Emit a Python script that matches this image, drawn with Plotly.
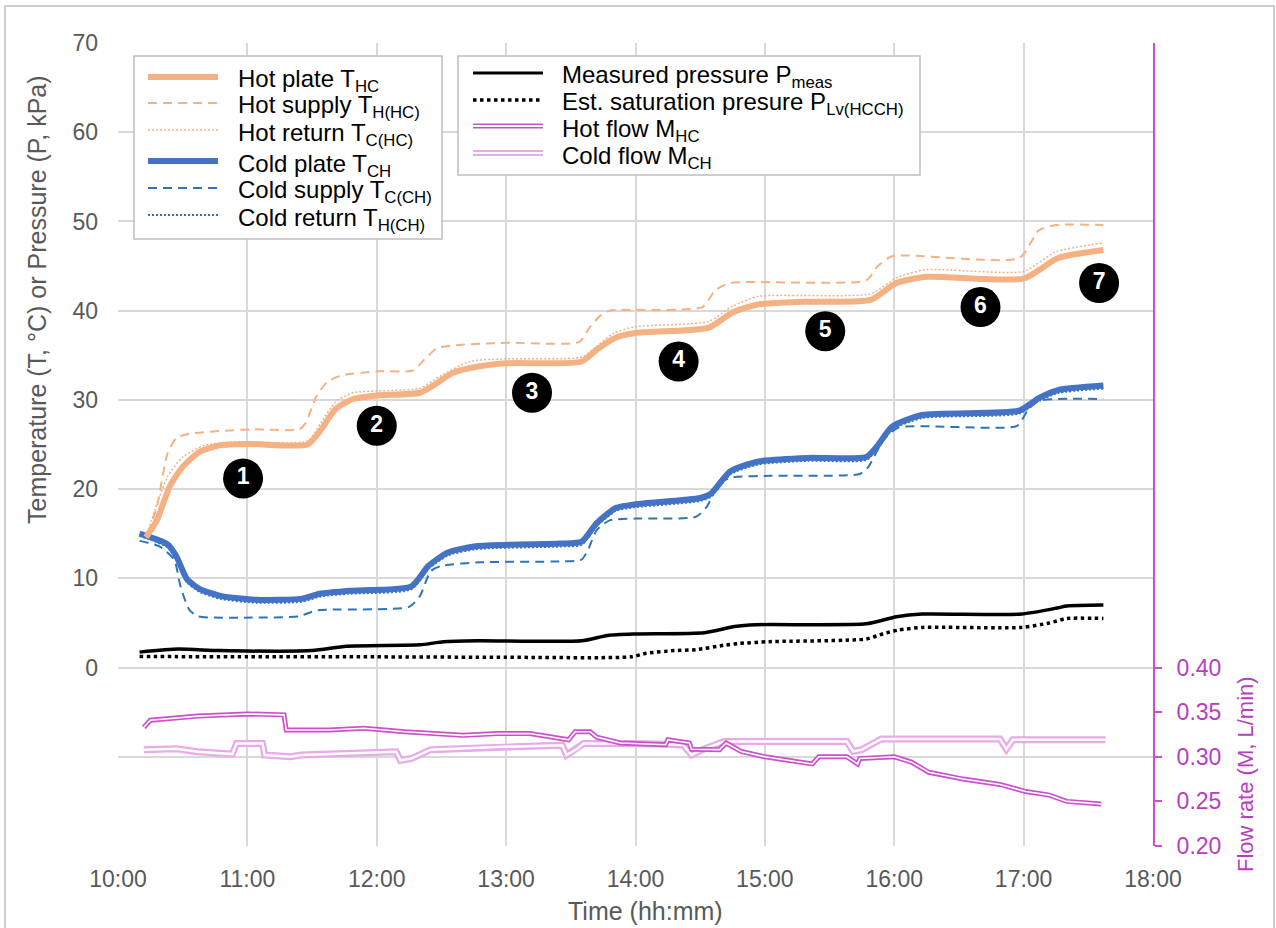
import pandas as pd
import plotly.graph_objects as go

DAY = "2000-01-01 "

def clock(times):
    return pd.to_datetime([DAY + t for t in times])

# ---- temperatures (deg C) ----
hot_plate_time = ["10:13", "10:18", "10:24", "10:30", "10:38", "10:47", "11:02", "11:28", "11:34",
                  "11:41", "11:49", "12:00", "12:20", "12:28", "12:35", "12:44", "13:00", "13:35",
                  "13:43", "13:51", "14:00", "14:34", "14:45", "14:57", "15:18", "15:49", "16:01",
                  "16:15", "17:00", "17:16", "17:37"]
hot_plate_val = [14.6, 16.5, 20.3, 22.5, 24.2, 24.9, 25.05, 25.0, 26.6,
                 29.0, 30.1, 30.5, 30.8, 31.9, 33.0, 33.6, 34.1, 34.3,
                 35.8, 37.0, 37.5, 38.1, 39.8, 40.7, 41.0, 41.2, 43.1,
                 43.8, 43.6, 45.9, 46.8]

hot_return_time = ["10:13", "10:17", "10:23", "10:30", "10:40", "10:54", "11:28", "11:34", "11:41",
                   "11:49", "12:20", "12:29", "12:43", "13:00", "13:35", "13:42", "13:50", "14:00",
                   "14:34", "14:45", "14:57", "15:49", "16:02", "16:15", "17:00", "17:15", "17:37"]
hot_return_val = [14.6, 17.6, 21.4, 23.6, 24.9, 25.3, 25.4, 27.4, 29.8,
                  30.8, 31.3, 32.6, 34.3, 34.6, 34.8, 36.0, 37.5, 38.2,
                  38.8, 40.5, 41.6, 41.9, 43.8, 44.6, 44.4, 46.6, 47.6]

hot_supply_time = ["10:14", "10:18", "10:23", "10:27", "10:33", "11:02", "11:24", "11:27", "11:32",
                   "11:37", "11:43", "12:00", "12:17", "12:22", "12:28", "12:35", "13:00", "13:34",
                   "13:39", "13:44", "13:48", "14:31", "14:37", "14:44", "15:47", "15:52", "15:59",
                   "16:58", "17:07", "17:15", "17:37"]
hot_supply_val = [15.0, 18.0, 24.0, 25.7, 26.2, 26.7, 26.7, 27.4, 30.4,
                  32.0, 32.7, 33.2, 33.3, 34.5, 35.8, 36.1, 36.4, 36.5,
                  38.2, 39.5, 40.0, 40.4, 42.3, 43.1, 43.4, 44.9, 46.1,
                  45.9, 49.0, 49.6, 49.6]

cold_plate_time = ["10:10", "10:23", "10:27", "10:32", "10:38", "10:48", "11:04", "11:25", "11:34",
                   "11:47", "12:16", "12:24", "12:33", "12:46", "13:25", "13:35", "13:42", "13:51",
                   "14:00", "14:30", "14:35", "14:44", "14:57", "15:20", "15:47", "15:52", "15:59",
                   "16:13", "16:58", "17:07", "17:16", "17:37"]
cold_plate_val = [15.0, 13.8, 12.5, 9.9, 8.8, 8.0, 7.6, 7.7, 8.3,
                  8.6, 9.1, 11.4, 12.9, 13.6, 13.9, 14.1, 16.2, 17.9,
                  18.3, 19.0, 19.5, 22.0, 23.1, 23.5, 23.6, 24.8, 27.0,
                  28.3, 28.8, 30.2, 31.1, 31.6]

cold_return_time = cold_plate_time
cold_return_val = [14.8, 13.5, 12.2, 9.6, 8.5, 7.7, 7.3, 7.4, 8.0,
                   8.3, 8.8, 11.1, 12.6, 13.3, 13.6, 13.8, 15.9, 17.6,
                   18.0, 18.7, 19.2, 21.7, 22.8, 23.2, 23.3, 24.5, 26.7,
                   28.0, 28.5, 29.9, 30.8, 31.3]

cold_supply_time = ["10:10", "10:19", "10:26", "10:29", "10:33", "10:37", "11:02", "11:24", "11:32",
                    "12:15", "12:20", "12:25", "12:30", "12:48", "13:25", "13:35", "13:38", "13:42",
                    "13:48", "14:00", "14:28", "14:33", "14:39", "14:45", "15:03", "15:44", "15:48",
                    "15:55", "16:02", "16:57", "17:02", "17:07", "17:37"]
cold_supply_val = [14.2, 13.6, 12.1, 9.1, 6.5, 5.75, 5.6, 5.75, 6.4,
                   6.8, 8.0, 10.8, 11.4, 11.8, 11.9, 12.1, 13.2, 15.4,
                   16.5, 16.7, 16.9, 18.0, 20.7, 21.3, 21.5, 21.7, 22.5,
                   25.5, 26.9, 27.1, 28.9, 29.9, 30.1]

# ---- pressures (kPa) ----
p_meas_time = ["10:10", "10:28", "10:47", "11:30", "11:46", "12:20", "12:31", "12:47", "13:35",
               "13:47", "14:00", "14:32", "14:46", "14:56", "15:47", "16:01", "16:13", "16:59",
               "17:16", "17:20", "17:37"]
p_meas_val = [1.73, 2.07, 1.9, 1.9, 2.4, 2.55, 2.9, 3.0, 3.0,
              3.6, 3.76, 3.9, 4.6, 4.8, 4.9, 5.7, 6.0, 6.0,
              6.7, 6.9, 7.0]

p_sat_time = ["10:10", "11:00", "12:00", "13:00", "13:58", "14:05", "14:18", "14:28", "14:41",
              "14:48", "15:02", "15:47", "15:55", "16:02", "16:13", "16:59", "17:12", "17:20", "17:37"]
p_sat_val = [1.24, 1.2, 1.2, 1.15, 1.2, 1.6, 1.9, 2.0, 2.5,
             2.7, 2.9, 3.2, 3.8, 4.2, 4.5, 4.5, 5.0, 5.5, 5.5]

# ---- flow rates (L/min) ----
hot_flow_time = ["10:12", "10:15", "10:37", "11:00", "11:17", "11:18", "11:38", "11:54", "12:13",
                 "12:40", "12:56", "13:11", "13:29", "13:32", "13:39", "13:42", "13:53", "14:14",
                 "14:15", "14:25", "14:26", "14:39", "14:42", "14:49", "15:00", "15:22", "15:25",
                 "15:38", "15:43", "15:44", "16:00", "16:08", "16:16", "16:32", "16:49", "17:01",
                 "17:12", "17:20", "17:36"]
hot_flow_val = [0.333, 0.341, 0.3456, 0.348, 0.347, 0.330, 0.330, 0.332, 0.328,
                0.324, 0.326, 0.326, 0.319, 0.328, 0.328, 0.322, 0.3155, 0.3135,
                0.319, 0.3155, 0.3085, 0.308, 0.3155, 0.306, 0.300, 0.292, 0.300,
                0.300, 0.292, 0.298, 0.300, 0.294, 0.2826, 0.275, 0.269, 0.261,
                0.257, 0.250, 0.247]

cold_flow_time = ["10:12", "10:27", "10:37", "10:53", "10:55", "11:07", "11:08", "11:20", "11:25",
                  "12:09", "12:11", "12:16", "12:25", "12:56", "13:26", "13:28", "13:33", "13:36",
                  "13:58", "14:22", "14:26", "14:31", "14:41", "15:13", "15:38", "15:41", "15:45",
                  "15:54", "16:49", "16:52", "16:55", "17:38"]
cold_flow_val = [0.308, 0.309, 0.3056, 0.303, 0.315, 0.315, 0.302, 0.300, 0.302,
                 0.3056, 0.296, 0.298, 0.308, 0.311, 0.313, 0.302, 0.309, 0.315,
                 0.315, 0.3135, 0.302, 0.308, 0.317, 0.317, 0.317, 0.306, 0.308,
                 0.320, 0.320, 0.3085, 0.319, 0.319]

# ---- numbered stage markers ----
stage_labels = ["1", "2", "3", "4", "5", "6", "7"]
stage_time = ["10:58", "12:00", "13:12", "14:20", "15:28", "16:40", "17:35"]
stage_val = [21.2, 27.1, 30.8, 34.3, 37.7, 40.4, 43.1]

# ---- axis ticks ----
hour_ticks = ["10:00", "11:00", "12:00", "13:00", "14:00", "15:00", "16:00", "17:00", "18:00"]
left_ticks = [-20, -10, 0, 10, 20, 30, 40, 50, 60, 70]
flow_ticks = [0.20, 0.25, 0.30, 0.35, 0.40]

ORANGE = "#F4B183"
BLUE = "#4472C4"
BLUE_D = "#2E75B6"
MAG = "#CC4FCC"
MAG_PALE = "#E8AAE8"
MAG_TEXT = "#B83DC0"
GRAY_TXT = "#595959"
FONT = "Arial, Liberation Sans, sans-serif"
TICK_FS = 23
LEG_FS = 24

fig = go.Figure()


def temp_line(t, v, color, width, dash="solid", shape="spline"):
    fig.add_trace(go.Scatter(x=clock(t), y=v, mode="lines", showlegend=False,
                             line=dict(color=color, width=width, dash=dash, shape=shape, smoothing=0.6)))


def flow_line(t, v, color, width, inner):
    fig.add_trace(go.Scatter(x=clock(t), y=v, yaxis="y2", mode="lines", showlegend=False,
                             line=dict(color=color, width=width)))
    fig.add_trace(go.Scatter(x=clock(t), y=v, yaxis="y2", mode="lines", showlegend=False,
                             line=dict(color="white", width=inner)))


flow_line(cold_flow_time, cold_flow_val, MAG_PALE, 7, 2.5)
flow_line(hot_flow_time, hot_flow_val, MAG, 5, 1.6)

temp_line(p_sat_time, p_sat_val, "black", 3.5, "3.5px,3.5px")
temp_line(p_meas_time, p_meas_val, "black", 3.5)

temp_line(cold_supply_time, cold_supply_val, BLUE_D, 2, "9px,6px")
temp_line(cold_return_time, cold_return_val, BLUE_D, 2.5, "2px,2px")
temp_line(cold_plate_time, cold_plate_val, BLUE, 6)

temp_line(hot_supply_time, hot_supply_val, ORANGE, 2, "9px,6px")
temp_line(hot_return_time, hot_return_val, ORANGE, 1.5, "2px,2px")
temp_line(hot_plate_time, hot_plate_val, ORANGE, 6)

fig.add_trace(go.Scatter(
    x=clock(stage_time), y=stage_val, mode="markers+text", text=stage_labels,
    textposition="middle center", showlegend=False,
    marker=dict(size=40, color="black", line=dict(width=0)),
    textfont=dict(color="white", size=23, family=FONT, weight="bold")))

# ---- layout geometry (pixels) ----
L, R, T, B = 118, 1153, 43, 846


def px(x, y):
    return (x - L) / (R - L), (B - y) / (B - T)


shapes = []
annotations = []

# outer frame
x0, y0 = px(5, 932)
x1, y1 = px(1274, 6)
shapes.append(dict(type="rect", xref="paper", yref="paper", x0=x0, y0=y0, x1=x1, y1=y1,
                   line=dict(color="#BFBFBF", width=1.5), layer="below"))


def legend_box(left, top, right, bottom, entries, x_line0, x_line1, x_text):
    a0, b0 = px(left, bottom)
    a1, b1 = px(right, top)
    shapes.append(dict(type="rect", xref="paper", yref="paper", x0=a0, y0=b0, x1=a1, y1=b1,
                       fillcolor="white", line=dict(color="#BFBFBF", width=1.5), layer="above"))
    for y, label, style in entries:
        for st in style:
            la, lb = px(x_line0, y + st.get("off", 0))
            lc, _ = px(x_line1, y)
            shapes.append(dict(type="line", xref="paper", yref="paper", x0=la, x1=lc, y0=lb, y1=lb,
                               line=dict(color=st["color"], width=st["width"], dash=st.get("dash", "solid")),
                               layer="above"))
        ta, tb = px(x_text, y + 4)
        annotations.append(dict(xref="paper", yref="paper", x=ta, y=tb, text=label, showarrow=False,
                                xanchor="left", yanchor="middle",
                                font=dict(family=FONT, size=LEG_FS, color="black")))


legend_box(134, 56, 442, 239, [
    (77, "Hot plate T<sub>HC</sub>", [dict(color=ORANGE, width=6)]),
    (103, "Hot supply T<sub>H(HC)</sub>", [dict(color=ORANGE, width=2, dash="9px,6px")]),
    (130, "Hot return T<sub>C(HC)</sub>", [dict(color=ORANGE, width=1.5, dash="2px,2px")]),
    (161, "Cold plate T<sub>CH</sub>", [dict(color=BLUE, width=6)]),
    (188, "Cold supply T<sub>C(CH)</sub>", [dict(color=BLUE_D, width=2, dash="9px,6px")]),
    (215, "Cold return T<sub>H(CH)</sub>", [dict(color=BLUE_D, width=2, dash="2px,2px")]),
], 148, 218, 236)

legend_box(458, 56, 920, 175, [
    (73, "Measured pressure P<sub>meas</sub>", [dict(color="black", width=3)]),
    (100, "Est. saturation presure P<sub>Lv(HCCH)</sub>", [dict(color="black", width=3.5, dash="3.5px,3.5px")]),
    (126, "Hot flow M<sub>HC</sub>", [dict(color=MAG, width=1.5, off=1.8), dict(color=MAG, width=1.5, off=-1.8)]),
    (153, "Cold flow M<sub>CH</sub>", [dict(color=MAG_PALE, width=2, off=2), dict(color=MAG_PALE, width=2, off=-2)]),
], 473, 543, 560)

# axis titles
ax, ay = px(37, 300)
annotations.append(dict(xref="paper", yref="paper", x=ax, y=ay, text="Temperature (T, °C) or Pressure (P, kPa)",
                        textangle=-90, showarrow=False, xanchor="center", yanchor="middle",
                        font=dict(family=FONT, size=25, color=GRAY_TXT)))
ax, ay = px(1245, 774)
annotations.append(dict(xref="paper", yref="paper", x=ax, y=ay, text="Flow rate (M, L/min)",
                        textangle=-90, showarrow=False, xanchor="center", yanchor="middle",
                        font=dict(family=FONT, size=22, color=MAG_TEXT)))
ax, ay = px(645, 911)
annotations.append(dict(xref="paper", yref="paper", x=ax, y=ay, text="Time (hh:mm)",
                        showarrow=False, xanchor="center", yanchor="middle",
                        font=dict(family=FONT, size=25, color=GRAY_TXT)))

fig.update_layout(
    width=1276, height=928,
    margin=dict(l=L, r=1276 - R, t=T, b=928 - B),
    paper_bgcolor="white", plot_bgcolor="white",
    font=dict(family=FONT, size=TICK_FS, color=GRAY_TXT),
    shapes=shapes, annotations=annotations,
    xaxis=dict(type="date", range=[DAY + "10:00", DAY + "18:00"],
               tickvals=list(clock(hour_ticks)), ticktext=hour_ticks,
               showgrid=True, gridcolor="#D9D9D9", gridwidth=2, zeroline=False,
               showline=False, ticks="", ticklabelstandoff=17,
               tickfont=dict(size=TICK_FS, color=GRAY_TXT)),
    yaxis=dict(range=[-20, 70], tickvals=left_ticks,
               ticktext=[str(v) if v >= 0 else "" for v in left_ticks],
               showgrid=True, gridcolor="#D9D9D9", gridwidth=2, zeroline=False,
               showline=False, ticks="", ticklabelstandoff=19,
               tickfont=dict(size=TICK_FS, color=GRAY_TXT)),
    yaxis2=dict(overlaying="y", side="right", range=[0.2, 1.1], tickvals=flow_ticks,
                ticktext=[f"{v:.2f}" for v in flow_ticks],
                showgrid=False, zeroline=False, showline=True, linecolor=MAG, linewidth=2,
                ticks="outside", ticklen=7, tickcolor=MAG, tickwidth=2, ticklabelstandoff=10,
                tickfont=dict(size=TICK_FS, color=MAG_TEXT)),
)

fig.write_html("out.html")
